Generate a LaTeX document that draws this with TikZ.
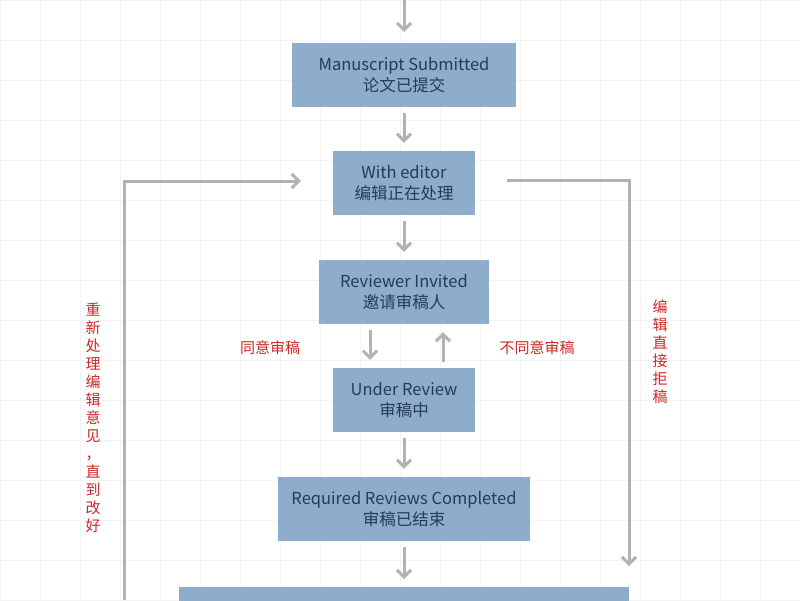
\documentclass[tikz,border=0pt]{standalone}
\usepackage{fontspec}
\setmainfont{Noto Sans CJK SC}
\usetikzlibrary{positioning,arrows.meta}
\definecolor{colornode}{RGB}{142,173,204}
\definecolor{colortext}{RGB}{38,58,92}
\definecolor{colorarrow}{RGB}{178,178,178}
\definecolor{colorlabel}{RGB}{205,40,40}
\definecolor{colorgrid}{RGB}{243,243,243}

\begin{document}
\begin{tikzpicture}[
    x=1pt, y=-1pt,
    font={\fontsize{16.5}{21}\selectfont},
    base/.style={fill=colornode,text=colortext,align=center,rectangle,inner sep=0pt,minimum height=64pt},
    arr/.style={-{Straight Barb[length=7pt,width=14pt]},line width=3pt,draw=colorarrow},
    lbl/.style={text=colorlabel,font={\fontsize{15}{18}\selectfont}},
    vlbl/.style={text=colorlabel,align=center,font={\fontsize{15}{18}\selectfont}},
]
    \useasboundingbox (0,0) rectangle (800,600);
    \fill[white] (0,0) rectangle (800,600);
    \draw[colorgrid,step=40pt] (0,0) grid (800,600);

    \coordinate (top) at (404,0);
    \node[base,minimum width=224pt] at (404,75) (submitted) {Manuscript Submitted\\论文已提交};
    \node[base,minimum width=142pt] at (404,183) (editor) {With editor\\编辑正在处理};
    \node[base,minimum width=170pt] at (404,292) (invited) {Reviewer Invited\\邀请审稿人};
    \node[base,minimum width=142pt] at (404,400) (review) {Under Review\\审稿中};
    \node[base,minimum width=252pt] at (404,509) (completed) {Required Reviews Completed\\审稿已结束};
    \node[base,minimum width=450pt,anchor=north] at (404,587) (decision) {};

    \draw[arr] (top) -- ++(0,32);
    \draw[arr] ([yshift=-6pt]submitted.south) -- ([yshift=8pt]editor.north);
    \draw[arr] ([yshift=-6pt]editor.south) -- ([yshift=8pt]invited.north);
    \draw[arr] ([xshift=-34pt,yshift=-6pt]invited.south) -- ([xshift=-34pt,yshift=8pt]review.north);
    \draw[arr] ([xshift=39pt,yshift=6pt]review.north) -- ([xshift=39pt,yshift=-8pt]invited.south);
    \draw[arr] ([yshift=-6pt]review.south) -- ([yshift=8pt]completed.north);
    \draw[arr] ([yshift=-6pt]completed.south) -- ([yshift=8pt]decision.north);

    % loops
    \coordinate (leftfoot) at (124,600);
    \coordinate (rightfoot) at (629,566);
    \draw[arr] (leftfoot) |- ([xshift=-32pt,yshift=2pt]editor.west);
    \draw[arr] ([xshift=32pt,yshift=3pt]editor.east) -| (rightfoot);

    \node[lbl] at (270,348) (agree) {同意审稿};
    \node[lbl] at (537,348) (refuse) {不同意审稿};
    \node[vlbl] at (93,418) (redo) {重\\新\\处\\理\\编\\辑\\意\\见\\，\\直\\到\\改\\好};
    \node[vlbl] at (660,352) (reject) {编\\辑\\直\\接\\拒\\稿};
\end{tikzpicture}
\end{document}
